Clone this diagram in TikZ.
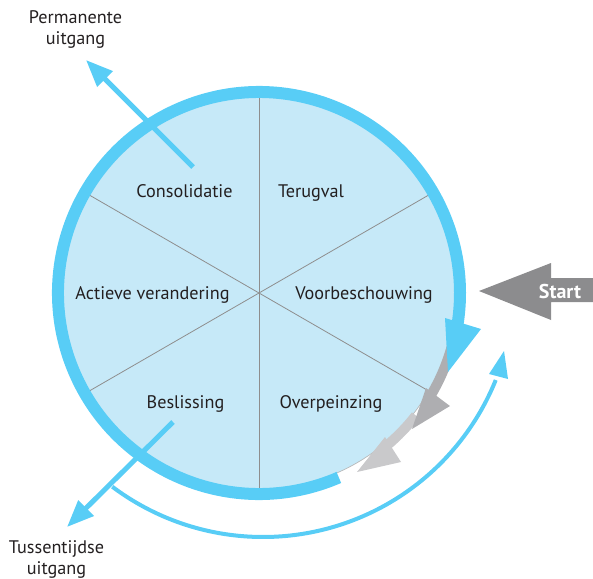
\documentclass[tikz,border=0pt]{standalone}
\usepackage{fontspec}
\setmainfont{PT Sans}
\usetikzlibrary{arrows.meta}
\definecolor{ringblue}{HTML}{58CDF6}
\definecolor{fillblue}{HTML}{C6E9F8}
\definecolor{spokegray}{HTML}{8E8E8E}
\definecolor{startgray}{HTML}{8C8C8E}
\definecolor{darkarr}{HTML}{AEAEB1}
\definecolor{lightarr}{HTML}{C9C9CB}
\definecolor{txt}{HTML}{231F20}
\begin{document}
\begin{tikzpicture}[x=1pt,y=-1pt,
  lbl/.style={font=\fontsize{18.2}{21}\selectfont, text=txt, inner sep=0pt, align=center, anchor=base},
  spoke/.style={draw=spokegray, line width=0.8pt},
  exitarrow/.style={draw=ringblue, line width=5pt, -{Triangle[length=27pt,width=21pt]}},
  ringstyle/.style={draw=ringblue, line width=12pt},
  outerarc/.style={draw=ringblue, line width=4pt}]
\useasboundingbox (0,0) rectangle (593,578);
\coordinate (C) at (259,293);
\coordinate (C2) at (263,286);
% disc
\fill[fillblue, draw=gray!55, line width=0.7pt] (C) circle[radius=196];
\foreach \a in {30,90,150,210,270,330} \draw[spoke] (C) -- ++(\a:196);
% gray arrows
\draw[draw=lightarr, line width=10pt] (C) ++(38:199) arc[start angle=38, end angle=50, radius=199];
\fill[lightarr] (385,437) -- (401,462) -- (357,472) -- cycle;
\draw[draw=darkarr, line width=10pt] (C) ++(14:200) arc[start angle=14, end angle=31, radius=200];
\fill[darkarr] (426,388) -- (450,406) -- (412,429) -- cycle;
% blue ring
\draw[ringstyle] (C) ++(66.6:201) arc[start angle=66.6, end angle=369, radius=201];
\fill[ringblue] (445,318) -- (481,329) -- (448,372) -- cycle;
% outer arc
\draw[outerarc] (C2) ++(126.9:251) arc[start angle=126.9, end angle=22, radius=251];
\fill[ringblue] (489,374) -- (508,379) -- (504,351) -- cycle;
% exit arrows
\coordinate (pe0) at (193,167);
\coordinate (pe1) at (86,60);
\coordinate (te0) at (173,422);
\coordinate (te1) at (67,527);
\draw[exitarrow] (pe0) -- (pe1);
\draw[exitarrow] (te0) -- (te1);
% start arrow
\fill[startgray] (479,291) -- (551,263) -- (551,278) -- (593,278) -- (593,302) -- (551,302) -- (551,320) -- cycle;
\node[anchor=base, inner sep=0pt, text=white, font=\fontsize{20}{24}\selectfont\bfseries] (start) at (560,298) {Start};
% labels
\node[lbl] (consol) at (184.5,197) {Consolidatie};
\node[lbl] (terug) at (311,197) {Terugval};
\node[lbl] (actief) at (152.5,299) {Actieve verandering};
\node[lbl] (voorb) at (364,299) {Voorbeschouwing};
\node[lbl] (besl) at (185.5,408) {Beslissing};
\node[lbl] (overp) at (331,408) {Overpeinzing};
\node[lbl] (perm) at (75.5,45) {Permanente\\uitgang};
\node[lbl] (tuss) at (56.5,574) {Tussentijdse\\uitgang};
\end{tikzpicture}
\end{document}
